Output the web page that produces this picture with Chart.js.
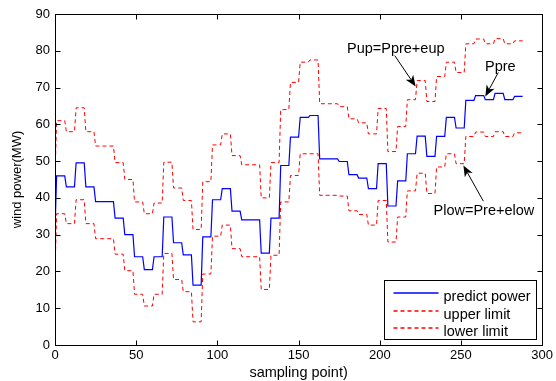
<!DOCTYPE html>
<html>
<head>
<meta charset="utf-8">
<script src="https://cdn.jsdelivr.net/npm/chart.js@4.4.0/dist/chart.umd.min.js"></script>
<style>
  body { margin: 0; background: #fff; }
  canvas { display: block; }
</style>
</head>
<body>
<canvas id="wind_chart" width="556" height="381"></canvas>
<script>
// wind power forecast with upper / lower limit
// each level holds for one block of 6 sampling points (block k = 6k+1 .. 6k+6)

const BLOCK_SIZE = 6;

// value at sampling point 0
const FIRST_PREDICT = 31;
const FIRST_UPPER = 46;
const FIRST_LOWER = 20;

const PREDICT_POWER = [ 46, 43, 49.5, 43, 39, 39, 34.5, 30, 24, 20.5, 24, 34.8,
  27.8, 24.5, 16.3, 29.4, 39.5, 42.5, 36.4, 34, 34, 25, 34.5, 48.8,
  56.5, 61.9, 62.4, 50.6, 50.6, 49.9, 46.3, 45.4, 42.5, 49.3, 37.8, 44.6,
  52, 56.8, 51.3, 56.7, 61.9, 59, 66.5, 67.8, 66.7, 68.4, 66.7, 67.6 ];

const UPPER_LIMIT = [ 61, 58, 64.5, 58, 54.1, 54.1, 49.6, 45, 38.9, 35.7, 38.6, 49.7,
  42.7, 39.3, 31.4, 44.4, 54.4, 57.4, 51.5, 49, 49, 40, 49.6, 64,
  71.4, 76.9, 77.5, 65.6, 65.6, 64.8, 61.5, 60.4, 57.4, 64.3, 52.6, 59.4,
  66.7, 71.9, 66.2, 73, 76.9, 74.1, 81.9, 83.2, 81.9, 83.3, 81.9, 82.7 ];

const LOWER_LIMIT = [ 35.7, 33, 39.5, 33, 28.9, 28.9, 24.7, 20.2, 13.8, 10.6, 13.8, 24.9,
  17.8, 14.5, 6.3, 19.3, 29.6, 32.6, 26.2, 24, 24, 15.1, 24.4, 38.9,
  46.1, 52, 52, 40.7, 40.7, 40.5, 36.5, 35.5, 32.6, 39.3, 28, 34.8,
  41.9, 46.7, 41.2, 48.4, 52, 49.3, 56.7, 57.9, 56.7, 58, 56.7, 57.7 ];

const SERIES_LABELS = [ 'predict power', 'upper limit', 'lower limit' ];
const X_TICKS = [ 0, 50, 100, 150, 200, 250, 300 ];
const Y_TICKS = [ 0, 10, 20, 30, 40, 50, 60, 70, 80, 90 ];

// line styles, one per series
const SERIES_STYLE = [
  { color: '#0000ff', width: 1.2, dash: [] },
  { color: '#ff0000', width: 1, dash: [ 4, 3 ] },
  { color: '#ff0000', width: 1, dash: [ 4, 3 ] }
];

// annotation texts, anchored in data units
const NOTES = [
  { text: 'Pup=Ppre+eup', at: [ 179.8, 79.4 ], from: [ 209.2, 78.7 ], to: [ 222.1, 70.3 ] },
  { text: 'Ppre', at: [ 264.8, 74.5 ], from: [ 273, 74.1 ], to: [ 265, 67.6 ] },
  { text: 'Plow=Pre+elow', at: [ 233.1, 35.3 ], from: [ 263.8, 39.1 ], to: [ 251.5, 48.8 ] }
];

const FONT = 'Liberation Sans, Arial, Helvetica, sans-serif';

function to_points( first, levels ) {
  const pts = [ { x: 0, y: first } ];
  levels.forEach( ( v, k ) => {
    pts.push( { x: k * BLOCK_SIZE + 1, y: v } );
    pts.push( { x: k * BLOCK_SIZE + BLOCK_SIZE, y: v } );
  } );
  return pts;
}

function make_dataset( i, first, levels ) {
  const st = SERIES_STYLE[ i ];
  return {
    label: SERIES_LABELS[ i ],
    data: to_points( first, levels ),
    borderColor: st.color,
    borderWidth: st.width,
    borderDash: st.dash
  };
}

function draw_arrow( ctx, x0, y0, x1, y1 ) {
  const ang = Math.atan2( y1 - y0, x1 - x0 );
  const len = 11, half = 4.5, notch = 3;
  ctx.beginPath();
  ctx.moveTo( x0, y0 );
  ctx.lineTo( x1 - Math.cos( ang ) * ( len - notch ), y1 - Math.sin( ang ) * ( len - notch ) );
  ctx.stroke();
  const bx = x1 - Math.cos( ang ) * len, by = y1 - Math.sin( ang ) * len;
  const nx = -Math.sin( ang ), ny = Math.cos( ang );
  ctx.beginPath();
  ctx.moveTo( x1, y1 );
  ctx.lineTo( bx + nx * half, by + ny * half );
  ctx.lineTo( x1 - Math.cos( ang ) * ( len - notch ), y1 - Math.sin( ang ) * ( len - notch ) );
  ctx.lineTo( bx - nx * half, by - ny * half );
  ctx.closePath();
  ctx.fill();
}

const frame_plugin = {
  id: 'frame',
  afterDraw( chart ) {
    const { ctx, chartArea: a, scales: { x, y } } = chart;
    const L = Math.round( a.left ) + 0.5, R = Math.round( a.right ) + 0.5;
    const T = Math.round( a.top ) + 0.5, B = Math.round( a.bottom ) + 0.5;
    ctx.save();
    ctx.strokeStyle = '#000';
    ctx.fillStyle = '#000';
    ctx.lineWidth = 1;
    ctx.setLineDash( [] );

    // box + inward ticks
    ctx.strokeRect( L, T, R - L, B - T );
    ctx.beginPath();
    X_TICKS.forEach( v => {
      const px = Math.round( x.getPixelForValue( v ) ) + 0.5;
      ctx.moveTo( px, B ); ctx.lineTo( px, B - 5 );
      ctx.moveTo( px, T ); ctx.lineTo( px, T + 5 );
    } );
    Y_TICKS.forEach( v => {
      const py = Math.round( y.getPixelForValue( v ) ) + 0.5;
      ctx.moveTo( L, py ); ctx.lineTo( L + 5, py );
      ctx.moveTo( R, py ); ctx.lineTo( R - 5, py );
    } );
    ctx.stroke();

    // notes with arrows
    ctx.font = '14.5px ' + FONT;
    ctx.textBaseline = 'alphabetic';
    ctx.textAlign = 'left';
    NOTES.forEach( n => {
      ctx.fillText( n.text, x.getPixelForValue( n.at[ 0 ] ), y.getPixelForValue( n.at[ 1 ] ) );
      draw_arrow( ctx,
        x.getPixelForValue( n.from[ 0 ] ), y.getPixelForValue( n.from[ 1 ] ),
        x.getPixelForValue( n.to[ 0 ] ), y.getPixelForValue( n.to[ 1 ] ) );
    } );

    // legend box, bottom right inside the axes
    const bw = 152, bh = 59;
    const bx = R - 6 - bw, by = B - 6 - bh;
    ctx.fillStyle = '#fff';
    ctx.fillRect( bx, by, bw, bh );
    ctx.strokeStyle = '#000';
    ctx.strokeRect( bx, by, bw, bh );
    const rows = [ 12, 30, 47 ];
    SERIES_LABELS.forEach( ( label, i ) => {
      const st = SERIES_STYLE[ i ];
      const ly = Math.round( by + rows[ i ] );
      ctx.strokeStyle = st.color;
      ctx.lineWidth = st.width + 0.3;
      ctx.setLineDash( st.dash );
      ctx.beginPath();
      ctx.moveTo( bx + 9, ly );
      ctx.lineTo( bx + 54, ly );
      ctx.stroke();
      ctx.fillStyle = '#000';
      ctx.fillText( label, bx + 59, ly + 7.5 );
    } );
    ctx.restore();
  }
};

const ctx = document.getElementById( 'wind_chart' ).getContext( '2d' );
new Chart( ctx, {
  type: 'line',
  data: {
    datasets: [
      make_dataset( 0, FIRST_PREDICT, PREDICT_POWER ),
      make_dataset( 1, FIRST_UPPER, UPPER_LIMIT ),
      make_dataset( 2, FIRST_LOWER, LOWER_LIMIT )
    ]
  },
  options: {
    responsive: false,
    animation: false,
    devicePixelRatio: 1,
    elements: { point: { radius: 0 }, line: { tension: 0 } },
    layout: { padding: { left: 0, top: 14, right: 12, bottom: 0 } },
    plugins: { legend: { display: false }, tooltip: { enabled: false } },
    scales: {
      x: {
        type: 'linear',
        min: 0,
        max: 300,
        afterBuildTicks: s => { s.ticks = X_TICKS.map( v => ( { value: v } ) ); },
        afterFit: s => { s.height = 36; },
        grid: { display: false, drawTicks: false },
        border: { display: false },
        ticks: { color: '#000', padding: 3, font: { family: FONT, size: 13 } },
        title: {
          display: true,
          text: 'sampling point)',
          color: '#000',
          font: { family: FONT, size: 14.5, lineHeight: 1 },
          padding: { top: 0, bottom: 1 }
        }
      },
      y: {
        type: 'linear',
        min: 0,
        max: 90,
        afterBuildTicks: s => { s.ticks = Y_TICKS.map( v => ( { value: v } ) ); },
        afterFit: s => { s.width = 55; },
        grid: { display: false, drawTicks: false },
        border: { display: false },
        ticks: { color: '#000', padding: 5, font: { family: FONT, size: 13 } },
        title: {
          display: true,
          text: 'wind power(MW)',
          color: '#000',
          font: { family: FONT, size: 13, lineHeight: 1 },
          padding: { top: 11, bottom: 0 }
        }
      }
    }
  },
  plugins: [ frame_plugin ]
} );
</script>
</body>
</html>
